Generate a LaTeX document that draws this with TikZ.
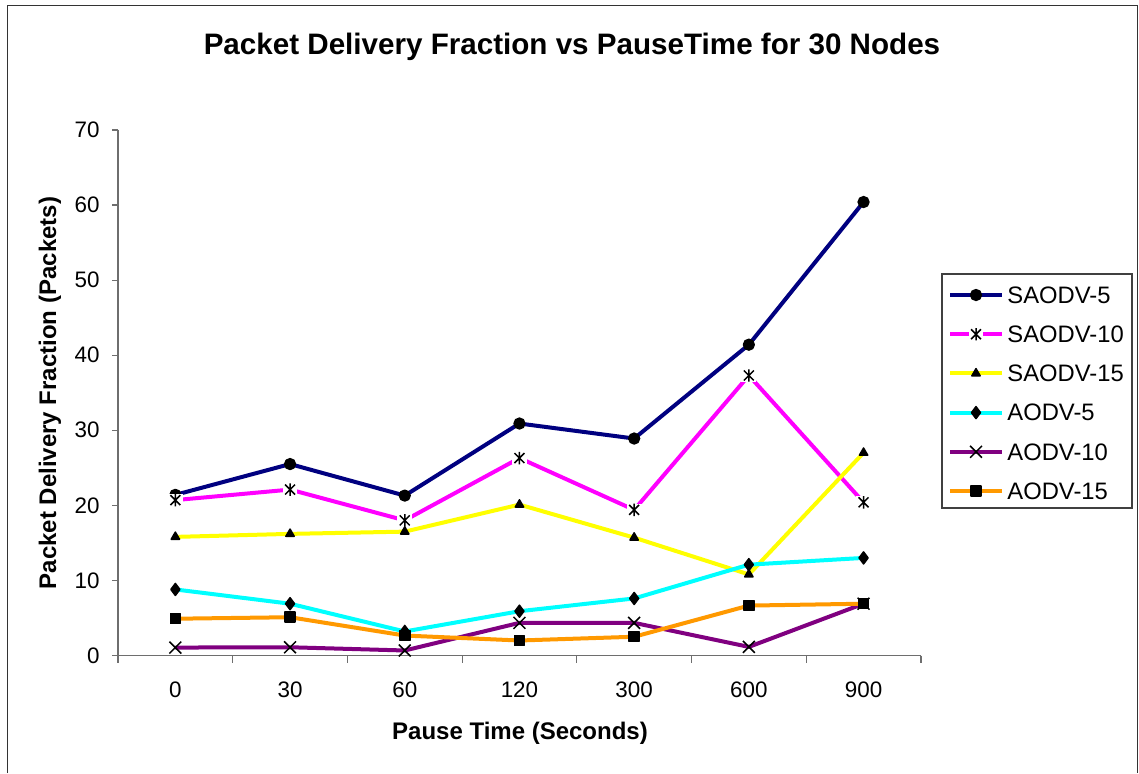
\documentclass[tikz,border=0pt]{standalone}
\usepackage{fontspec}
\setmainfont{Liberation Sans}
\usetikzlibrary{plotmarks}
\definecolor{pdnavy}{RGB}{0,0,128}
\definecolor{pdmagenta}{RGB}{255,0,255}
\definecolor{pdyellow}{RGB}{255,255,0}
\definecolor{pdcyan}{RGB}{0,255,255}
\definecolor{pdpurple}{RGB}{128,0,128}
\definecolor{pdorange}{RGB}{255,153,0}
\definecolor{pdgrey}{RGB}{110,110,110}

% asterisk marker on a white patch
\pgfdeclareplotmark{boxstar}{%
  \pgfpathrectangle{\pgfqpoint{-1.2\pgfplotmarksize}{-\pgfplotmarksize}}{\pgfqpoint{2.4\pgfplotmarksize}{2\pgfplotmarksize}}%
  \pgfsetfillcolor{white}\pgfusepathqfill
  \pgfpathmoveto{\pgfqpoint{0pt}{-\pgfplotmarksize}}\pgfpathlineto{\pgfqpoint{0pt}{\pgfplotmarksize}}%
  \pgfpathmoveto{\pgfqpoint{-0.8\pgfplotmarksize}{-0.8\pgfplotmarksize}}\pgfpathlineto{\pgfqpoint{0.8\pgfplotmarksize}{0.8\pgfplotmarksize}}%
  \pgfpathmoveto{\pgfqpoint{-0.8\pgfplotmarksize}{0.8\pgfplotmarksize}}\pgfpathlineto{\pgfqpoint{0.8\pgfplotmarksize}{-0.8\pgfplotmarksize}}%
  \pgfusepathqstroke
}

\tikzstyle{frame} = [line width=0.8pt, color=black!80]
\tikzstyle{axis} = [line width=0.6pt, color=pdgrey]
\tikzstyle{ticklabel} = [font=\fontsize{11.2}{13}\selectfont, inner sep=0pt]
\tikzstyle{axistitle} = [font=\fontsize{12}{14}\selectfont\bfseries, inner sep=0pt]
\tikzstyle{series} = [line width=2pt, line join=round, mark options={solid, draw=black, fill=black, line width=0.75pt}]
\tikzstyle{sa5} = [series, color=pdnavy, mark=*, mark size=2.7pt]
\tikzstyle{sa10} = [series, color=pdmagenta, mark=boxstar, mark size=3.1pt]
\tikzstyle{sa15} = [series, color=pdyellow, mark=triangle*, mark size=2.4pt]
\tikzstyle{ao5} = [series, color=pdcyan, mark=diamond*, mark size=3pt]
\tikzstyle{ao10} = [series, color=pdpurple, mark=x, mark size=4.2pt]
\tikzstyle{ao15} = [series, color=pdorange, mark=square*, mark size=2.5pt]

\begin{document}
\begin{tikzpicture}[x=0.5pt, y=-0.5pt]
\useasboundingbox (0,0) rectangle (1139,773);
\fill[white] (0,0) rectangle (1139,773);

% Frame
\draw[frame] (7.5,773) |- (1137.5,5.5) -- (1137.5,773);

% Titles
\node[font=\fontsize{14.8}{18}\selectfont\bfseries] (title) at (572,47) {Packet Delivery Fraction vs PauseTime for 30 Nodes};
\node[axistitle] (xtitle) at (520,733) {Pause Time (Seconds)};
\node[axistitle, rotate=90] (ytitle) at (50,393) {Packet Delivery Fraction (Packets)};

\begin{scope}[shift={(118,655.5)}, x=57.35pt, y=3.754pt]
% Axis
\draw[axis] (0,70) -- (0,0) -- (7,0);
\foreach \v in {0,10,...,70} {
  \draw[axis] (0,\v) -- ++(-3pt,0);
  \node[ticklabel, anchor=east] (y\v) at ([xshift=-9pt]0,\v) {\v};
}
\foreach \i in {0,...,7}
  \draw[axis] (\i,0) -- ++(0,-3.5pt);
\foreach \t [count=\i from 0] in {0,30,60,120,300,600,900}
  \node[ticklabel] (x\i) at ([yshift=-17pt]\i+0.5,0) {\t};

% Series
\draw[sa5] plot coordinates {(0.5,21.4) (1.5,25.5) (2.5,21.3) (3.5,30.9) (4.5,28.9) (5.5,41.4) (6.5,60.4)};
\draw[sa10] plot coordinates {(0.5,20.7) (1.5,22.1) (2.5,18.0) (3.5,26.3) (4.5,19.4) (5.5,37.3) (6.5,20.4)};
\draw[sa15] plot coordinates {(0.5,15.8) (1.5,16.2) (2.5,16.5) (3.5,20.1) (4.5,15.7) (5.5,10.8) (6.5,27.0)};
\draw[ao5] plot coordinates {(0.5,8.8) (1.5,6.9) (2.5,3.2) (3.5,5.9) (4.5,7.6) (5.5,12.1) (6.5,13.0)};
\draw[ao10] plot coordinates {(0.5,1.06) (1.5,1.1) (2.5,0.67) (3.5,4.35) (4.5,4.35) (5.5,1.15) (6.5,6.9)};
\draw[ao15] plot coordinates {(0.5,4.9) (1.5,5.1) (2.5,2.66) (3.5,2.0) (4.5,2.5) (5.5,6.65) (6.5,6.9)};
\end{scope}

% Legend
\draw[line width=0.6pt, color=black!75] (942,274) rectangle (1132,508);
\foreach \sty/\name [count=\k from 0] in {sa5/SAODV-5, sa10/SAODV-10, sa15/SAODV-15, ao5/AODV-5, ao10/AODV-10, ao15/AODV-15} {
  \draw[\sty] (950,295+39.2*\k) -- (1002,295+39.2*\k);
  \draw[\sty] plot[only marks] coordinates {(976,295+39.2*\k)};
  \node[font=\fontsize{11.9}{14}\selectfont, anchor=west, inner sep=0pt] (leg\k) at (1007,295+39.2*\k) {\name};
}
\end{tikzpicture}
\end{document}
